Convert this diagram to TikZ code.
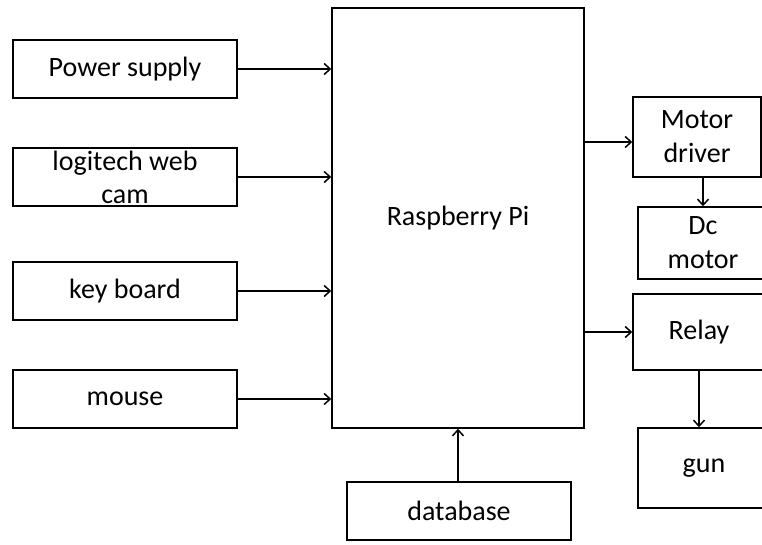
\documentclass[tikz,border=0pt]{standalone}
\usepackage{fontspec}
\setmainfont{Carlito}
\usetikzlibrary{positioning,arrows.meta}

\begin{document}
\begin{tikzpicture}[x=1pt, y=-1pt, >={Straight Barb[length=6pt,width=11pt]},
  block/.style={rectangle, draw, line width=1.5pt, inner sep=0pt, align=center,
    font=\fontsize{28}{34}\selectfont},
  link/.style={->, line width=1.5pt}]
  \clip (0,0) rectangle (762,544);
  % Nodes
  \node[block, minimum width=224pt, minimum height=58pt] (power) at (125,69) {Power supply};
  \node[block, minimum width=224pt, minimum height=58pt,
    label={[font=\fontsize{28}{33}\selectfont, align=center]center:logitech web\\cam}] (webcam) at (125,177) {};
  \node[block, minimum width=224pt, minimum height=58pt] (keyboard) at (125,291) {key board};
  \node[block, minimum width=224pt, minimum height=58pt] (mouse) at (125,399) {mouse};
  \node[block, minimum width=252pt, minimum height=420pt] (rpi) at (458,218) {Raspberry Pi};
  \node[block, minimum width=224pt, minimum height=58pt] (database) at (459,511) {database};
  \node[block, minimum width=128pt, minimum height=80pt] (mdriver) at (697,137) {Motor\\driver};
  \node[block, minimum width=130pt, minimum height=72pt] (dcmotor) at (703,243) {Dc\\motor};
  \node[block, minimum width=132pt, minimum height=76pt] (relay) at (699,332) {Relay};
  \node[block, minimum width=132pt, minimum height=80pt] (gun) at (704,468) {gun};

  % Arrows
  \draw[link] (power) -- (power -| rpi.west);
  \draw[link] (webcam) -- (webcam -| rpi.west);
  \draw[link] (keyboard) -- (keyboard -| rpi.west);
  \draw[link] (mouse) -- (mouse -| rpi.west);
  \draw[link] (database.north -| rpi) -- (rpi.south);
  \draw[link] ([yshift=-5pt]rpi.east |- mdriver) -- ([yshift=-5pt]mdriver.west);
  \draw[link] (mdriver.south -| dcmotor) -- (dcmotor.north);
  \draw[link] (rpi.east |- relay) -- (relay.west);
  \draw[link] (relay.south) -- (relay.south |- gun.north);
\end{tikzpicture}
\end{document}
